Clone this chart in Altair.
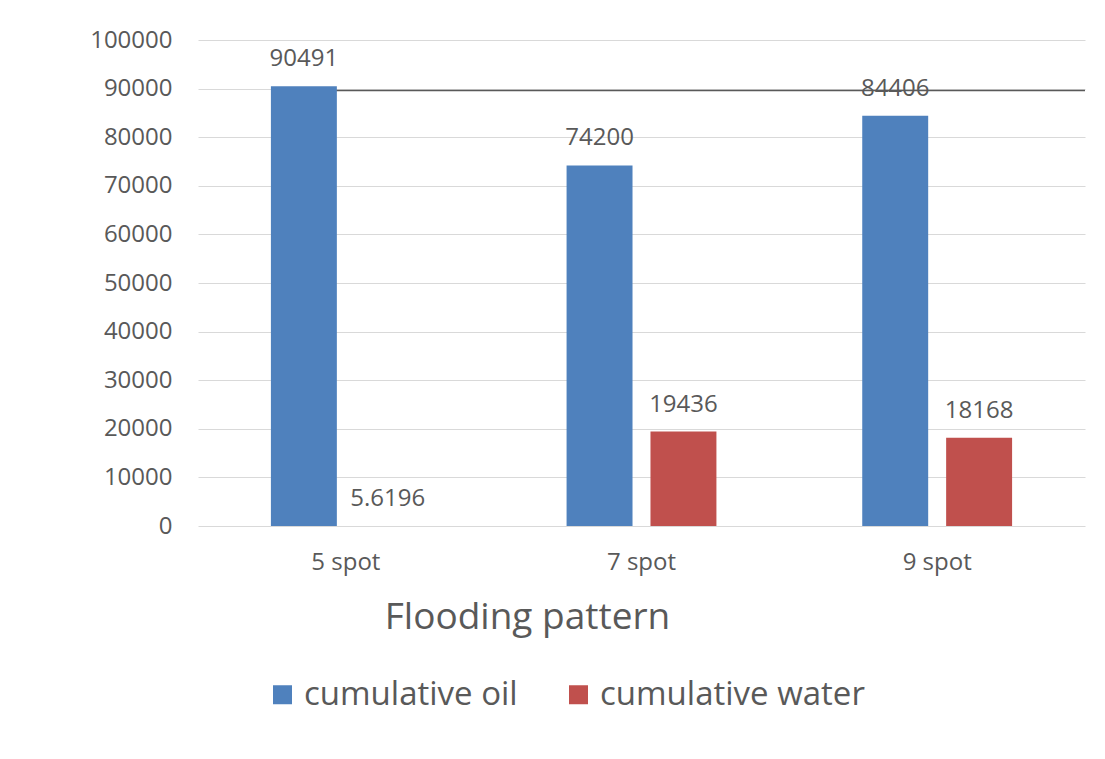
import altair as alt
import pandas as pd

patterns = ["5 spot", "7 spot", "9 spot"]
series = ["cumulative oil", "cumulative water"]
oil = [90491, 74200, 84406]
water = [5.6196, 19436, 18168]
ref_level = [89600]
colors = ["#4F81BD", "#C0504D"]

rows = []
for p, o, w in zip(patterns, oil, water):
    rows.append({"pattern": p, "series": series[0], "value": o, "label": f"{o:g}"})
    rows.append({"pattern": p, "series": series[1], "value": w, "label": f"{w:g}"})
df = pd.DataFrame(rows)

FONT = "Open Sans"
TXT = "#595959"
W, H = 887, 486

x = alt.X(
    "pattern:N", sort=patterns,
    scale=alt.Scale(paddingInner=0, paddingOuter=0),
    axis=alt.Axis(
        title="Flooding pattern", labelFontSize=24, labelColor=TXT, labelFont=FONT,
        labelPadding=24, labelAngle=0, domain=False, ticks=False,
        titleFontSize=37, titleFont=FONT, titleColor=TXT, titleFontWeight="normal",
        titleX=329, titleY=102, titleAlign="center", titleBaseline="alphabetic",
    ),
)
xo = alt.XOffset("series:N", sort=series,
                 scale=alt.Scale(paddingInner=0.214, paddingOuter=0.869))
y = alt.Y(
    "value:Q", scale=alt.Scale(domain=[0, 100000]),
    axis=alt.Axis(
        title=None, values=list(range(0, 100001, 10000)), format="d",
        labelFontSize=24, labelColor=TXT, labelFont=FONT, labelPadding=26,
        domain=False, ticks=False, gridColor="#D9D9D9", gridWidth=1,
    ),
)

ref = alt.Chart(pd.DataFrame({"value": ref_level})).mark_rule(
    color="#595959", strokeWidth=1.5
).encode(y=alt.Y("value:Q"), x=alt.value(138), x2=alt.value(W))

bars = alt.Chart(df).mark_bar().encode(
    x=x, xOffset=xo, y=y,
    color=alt.Color(
        "series:N", sort=series,
        scale=alt.Scale(domain=series, range=colors),
        legend=alt.Legend(
            title=None, orient="none", legendX=68, legendY=638, direction="horizontal",
            symbolType="square", symbolSize=361, symbolStrokeWidth=0,
            labelFontSize=33, labelFont=FONT, labelColor=TXT, labelOffset=5,
            labelLimit=0, columnPadding=44, padding=0,
        ),
    ),
)

labels = alt.Chart(df).mark_text(
    dy=-20, baseline="alphabetic", fontSize=24, font=FONT, color=TXT
).encode(x=x, xOffset=xo, y=y, text="label:N")

chart = alt.layer(ref, bars, labels).properties(
    width=W, height=H,
    autosize=alt.AutoSizeParams(type="none"),
    padding={"left": 190, "top": 32, "right": 10, "bottom": 225},
).configure(background="white").configure_view(stroke=None)

chart.save("out.html", embed_options={"renderer": "svg", "actions": False})
